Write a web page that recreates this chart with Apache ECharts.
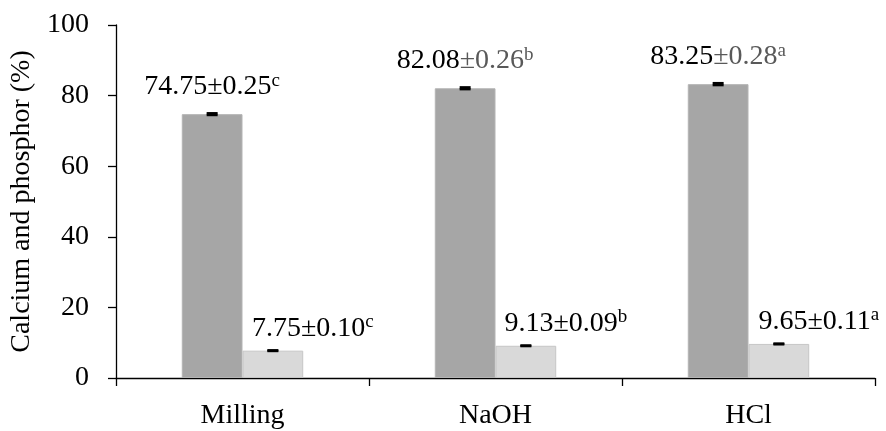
<!DOCTYPE html>
<html>
<head>
<meta charset="utf-8">
<script src="https://cdn.jsdelivr.net/npm/echarts@6/dist/echarts.min.js"></script>
<style>html,body{margin:0;padding:0;background:#fff}#c{width:886px;height:431px}</style>
</head>
<body>
<div id="c"></div>
<script>
const categories = ['Milling', 'NaOH', 'HCl'];
const calcium = [74.75, 82.08, 83.25];
const calciumSD = [0.25, 0.26, 0.28];
const calciumLetter = ['c', 'b', 'a'];
const phosphor = [7.75, 9.13, 9.65];
const phosphorSD = [0.10, 0.09, 0.11];
const phosphorLetter = ['c', 'b', 'a'];
const yTicks = [0, 20, 40, 60, 80, 100];

// styling (not data)
const FONT = '"Liberation Serif", "Times New Roman", serif';
const calciumSdStyle = ['blk', 'gry', 'gry'];
const CAT_GAP = 0.52;

const chart = echarts.init(document.getElementById('c'));

function labelRich() {
  return {
    blk: { fontFamily: FONT, fontSize: 28, color: '#000' },
    gry: { fontFamily: FONT, fontSize: 28, color: '#595959' },
    supblk: { fontFamily: FONT, fontSize: 19, color: '#000', verticalAlign: 'top', padding: [0, 0, 12, 0] },
    supgry: { fontFamily: FONT, fontSize: 19, color: '#595959', verticalAlign: 'top', padding: [0, 0, 12, 0] }
  };
}

function errorSeries(values, sds, side) {
  return {
    type: 'custom',
    z: 10,
    silent: true,
    data: values.map((v, i) => [i, v, sds[i]]),
    encode: { x: 0, y: 1 },
    renderItem: function (params, api) {
      const i = api.value(0), v = api.value(1), sd = api.value(2);
      const band = api.size([1, 0])[0];
      const barW = band * (1 - CAT_GAP) / 2;
      const c = api.coord([i, v]);
      const x = c[0] + side * barW / 2;
      const yHi = api.coord([i, v + sd])[1];
      const yLo = api.coord([i, v - sd])[1];
      const hw = 5.5;
      const st = { stroke: '#000', lineWidth: 2.4 };
      return {
        type: 'group',
        children: [
          { type: 'line', shape: { x1: x, y1: yHi, x2: x, y2: yLo }, style: st },
          { type: 'line', shape: { x1: x - hw, y1: yHi, x2: x + hw, y2: yHi }, style: st },
          { type: 'line', shape: { x1: x - hw, y1: yLo, x2: x + hw, y2: yLo }, style: st }
        ]
      };
    }
  };
}

chart.setOption({
  animation: false,
  backgroundColor: '#fff',
  grid: { left: 116, right: 11, top: 25, bottom: 53 },
  xAxis: {
    type: 'category',
    data: categories,
    axisLine: { lineStyle: { color: '#000', width: 1.3 } },
    axisTick: { show: true, length: 8, alignWithLabel: false, lineStyle: { color: '#000', width: 1.3 } },
    axisLabel: { fontFamily: FONT, fontSize: 28, color: '#000', margin: 24 }
  },
  yAxis: {
    type: 'value',
    min: yTicks[0],
    max: yTicks[yTicks.length - 1],
    interval: yTicks[1] - yTicks[0],
    name: 'Calcium and phosphor (%)',
    nameLocation: 'middle',
    nameGap: 75,
    nameTextStyle: { fontFamily: FONT, fontSize: 28, color: '#000' },
    splitLine: { show: false },
    axisLine: { show: true, lineStyle: { color: '#000', width: 1.3 } },
    axisTick: { show: true, length: 8, lineStyle: { color: '#000', width: 1.3 } },
    axisLabel: { fontFamily: FONT, fontSize: 28, color: '#000', margin: 27 }
  },
  series: [
    {
      type: 'bar',
      data: calcium,
      barGap: '0%',
      barCategoryGap: (CAT_GAP * 100) + '%',
      itemStyle: { color: '#A6A6A6', borderColor: '#B4B4B4', borderWidth: 1 },
      label: {
        show: true,
        position: 'top',
        distance: 12,
        formatter: function (p) {
          const i = p.dataIndex;
          const s = calciumSdStyle[i];
          return '{blk|' + calcium[i].toFixed(2) + '}{' + s + '|±' + calciumSD[i].toFixed(2) + '}{sup' + s + '|' + calciumLetter[i] + '}';
        },
        rich: labelRich()
      }
    },
    {
      type: 'bar',
      data: phosphor,
      itemStyle: { color: '#D9D9D9', borderColor: '#C6C6C6', borderWidth: 1 },
      label: {
        show: true,
        position: 'top',
        distance: 7,
        offset: [40, 0],
        formatter: function (p) {
          const i = p.dataIndex;
          return '{blk|' + phosphor[i].toFixed(2) + '±' + phosphorSD[i].toFixed(2) + '}{supblk|' + phosphorLetter[i] + '}';
        },
        rich: labelRich()
      }
    },
    errorSeries(calcium, calciumSD, -1),
    errorSeries(phosphor, phosphorSD, 1)
  ]
});
</script>
</body>
</html>
